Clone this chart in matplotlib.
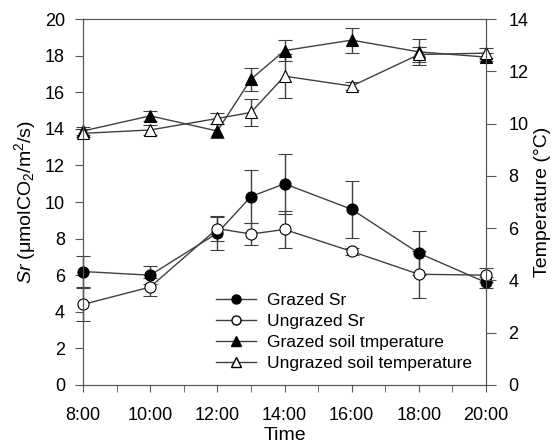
import matplotlib
matplotlib.use('Agg')
import matplotlib.pyplot as plt
from matplotlib.lines import Line2D
from matplotlib.ticker import MultipleLocator, FuncFormatter

plt.rcParams.update({
    'font.family': ['Liberation Sans', 'DejaVu Sans'],
    'font.size': 13,
    'mathtext.fontset': 'custom',
    'mathtext.rm': 'Liberation Sans',
    'mathtext.it': 'Liberation Sans:italic',
})

hours = [8, 10, 12, 13, 14, 16, 18, 20]

sr_grazed = [6.2, 6.0, 8.3, 10.3, 11.0, 9.6, 7.2, 5.6]
sr_grazed_err = [0.85, 0.5, 0.9, 1.45, 1.65, 1.55, 1.2, 0.3]
sr_ungrazed = [4.4, 5.35, 8.55, 8.25, 8.5, 7.3, 6.05, 6.0]
sr_ungrazed_err = [0.9, 0.5, 0.7, 0.6, 1.0, 0.2, 1.28, 0.4]

t_grazed = [9.72, 10.3, 9.72, 11.7, 12.8, 13.2, 12.75, 12.55]
t_grazed_err = [0.15, 0.2, 0.28, 0.45, 0.4, 0.48, 0.5, 0.15]
t_ungrazed = [9.63, 9.76, 10.2, 10.43, 11.82, 11.44, 12.65, 12.7]
t_ungrazed_err = [0.15, 0.2, 0.2, 0.5, 0.85, 0.15, 0.3, 0.2]

labels = ['Grazed Sr', 'Ungrazed Sr', 'Grazed soil tmperature', 'Ungrazed soil temperature']

LC = '#404040'
SC = '#555555'

fig = plt.figure(figsize=(5.53, 4.47), dpi=100)
ax = fig.add_axes([0.150, 0.139, 0.729, 0.818])
ax2 = ax.twinx()

kw = dict(color=LC, lw=1.0, ms=8, capsize=5, elinewidth=1.0, capthick=1.0,
          markeredgecolor='black', markeredgewidth=0.8)

def draw(a, y, e, marker, fc):
    c = a.errorbar(hours, y, yerr=e, marker=marker, markerfacecolor=fc, **kw)
    for art in c.get_children():
        art.set_clip_on(False)

draw(ax, sr_grazed, sr_grazed_err, 'o', 'black')
draw(ax, sr_ungrazed, sr_ungrazed_err, 'o', 'white')
draw(ax2, t_grazed, t_grazed_err, '^', 'black')
draw(ax2, t_ungrazed, t_ungrazed_err, '^', 'white')

ax.set_xlim(8, 20)
ax.set_ylim(0, 20)
ax2.set_ylim(0, 14)
ax.xaxis.set_major_locator(MultipleLocator(2))
ax.xaxis.set_minor_locator(MultipleLocator(1))
ax.xaxis.set_major_formatter(FuncFormatter(lambda v, p: f'{int(v)}:00'))
ax.yaxis.set_major_locator(MultipleLocator(2))
ax2.yaxis.set_major_locator(MultipleLocator(2))

for a in (ax, ax2):
    for s in a.spines.values():
        s.set_color(SC)
ax.tick_params(axis='x', which='both', color=SC, length=5, pad=11, labelsize=13)
ax.tick_params(axis='y', color=SC, length=6, pad=7, labelsize=13)
ax2.tick_params(axis='y', color=SC, length=7, pad=9, labelsize=13)

ax.set_xlabel('Time', fontsize=14, labelpad=2)
ax.set_ylabel(r'$\mathit{Sr}$ ($\mathrm{\mu}$molCO$_2$/m$^2$/s)', fontsize=14, labelpad=5)
ax2.set_ylabel('Temperature (°C)', fontsize=14, labelpad=4)

handles = [
    Line2D([], [], color=LC, lw=1.0, marker='o', ms=6.5, mfc='black', mec='black'),
    Line2D([], [], color=LC, lw=1.0, marker='o', ms=6.5, mfc='white', mec='black'),
    Line2D([], [], color=LC, lw=1.0, marker='^', ms=6.5, mfc='black', mec='black'),
    Line2D([], [], color=LC, lw=1.0, marker='^', ms=6.5, mfc='white', mec='black'),
]
ax2.legend(handles, labels, loc='lower left', bbox_to_anchor=(0.313, 0.02),
           frameon=False, fontsize=12.5, handlelength=2.3, handletextpad=0.63,
           labelspacing=0.32, borderaxespad=0)

fig.savefig('out.png', dpi=100)
